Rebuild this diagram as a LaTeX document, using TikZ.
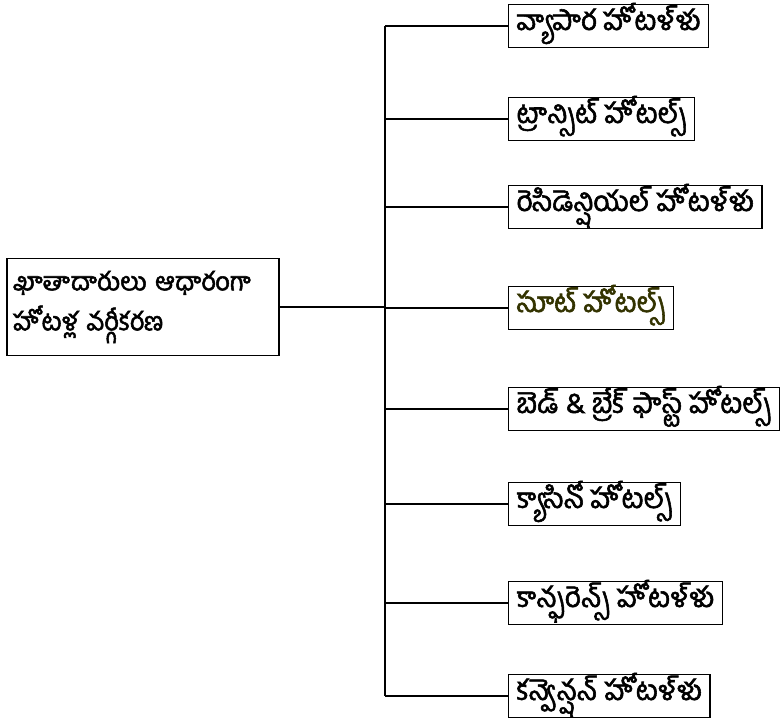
\documentclass[tikz,border=0pt]{standalone}
\usepackage{fontspec}
\usepackage{tikz}
\usetikzlibrary{positioning}
\newfontfamily\telugu[Script=Telugu,AutoFakeBold=2]{Hind Guntur}
\definecolor{suiteolive}{RGB}{51,51,0}
\tikzset{
  hotelbox/.style = {draw,line width=1.2pt,anchor=west,inner xsep=8pt,inner ysep=1pt,
                     text height=18pt,text depth=10pt,minimum height=43pt,
                     font=\telugu\bfseries\fontsize{28}{32}\selectfont},
  rootbox/.style  = {draw,line width=1.2pt,align=left,inner xsep=6pt,
                     minimum width=272pt,minimum height=97pt,text width=260pt,
                     font=\telugu\bfseries\fontsize{25.5}{40}\selectfont},
  branch/.style   = {line width=1.2pt}
}

\begin{document}
\begin{tikzpicture}[x=1pt,y=1pt]
  \useasboundingbox (0,0) rectangle (784,723);
  \node[rootbox] (root) at (143,416) {ఖాతాదారులు ఆధారంగా\\హోటళ్ల వర్గీకరణ};
  % hotel types
  \node[hotelbox] (vyapara)   at (508,697) {వ్యాపార హోటళ్ళు};
  \node[hotelbox] (transit)   at (508,604) {ట్రాన్సిట్ హోటల్స్};
  \node[hotelbox] (resident)  at (508,516) {రెసిడెన్షియల్ హోటళ్ళు};
  \node[hotelbox,text=suiteolive] (suite) at (508,415) {సూట్ హోటల్స్};
  \node[hotelbox] (bedbreak)  at (508,314) {బెడ్ \& బ్రేక్ ఫాస్ట్ హోటల్స్};
  \node[hotelbox] (casino)    at (508,219) {క్యాసినో హోటల్స్};
  \node[hotelbox] (conference) at (508,120) {కాన్ఫరెన్స్ హోటళ్ళు};
  \node[hotelbox] (convention) at (508,27) {కన్వెన్షన్ హోటళ్ళు};
  % trunk
  \coordinate (ttop) at (385,697);
  \coordinate (tbot) at (385,27);
  \draw[branch] (ttop) -- (tbot);
  \draw[branch] (root.east) -- (root.east -| ttop);
  \draw[branch] (ttop) -- (vyapara.west);
  \draw[branch] (transit.west -| ttop) -- (transit.west);
  \draw[branch] (resident.west -| ttop) -- (resident.west);
  \draw[branch] (suite.west -| ttop) -- (suite.west);
  \draw[branch] (bedbreak.west -| ttop) -- (bedbreak.west);
  \draw[branch] (casino.west -| ttop) -- (casino.west);
  \draw[branch] (conference.west -| ttop) -- (conference.west);
  \draw[branch] (tbot) -- (convention.west);
\end{tikzpicture}
\end{document}
